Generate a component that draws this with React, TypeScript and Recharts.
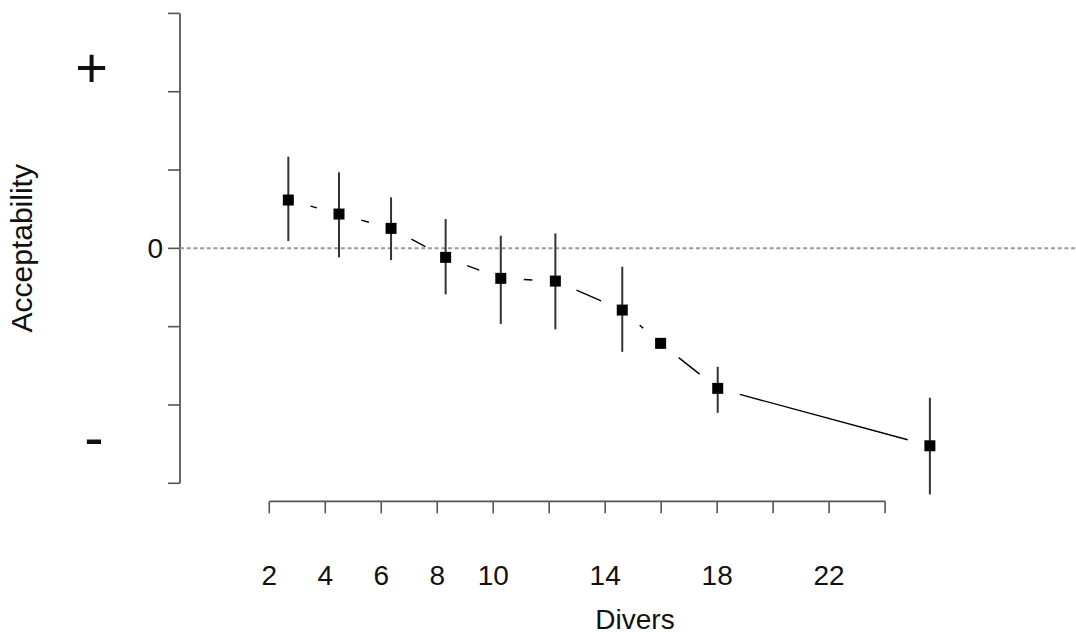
import React from 'react';
import { ComposedChart, Line, XAxis, YAxis, ReferenceLine, ErrorBar } from 'recharts';

// ---- data ----
const divers = [2.68, 4.49, 6.35, 8.3, 10.27, 12.22, 14.61, 15.98, 18.02, 25.6];
const acceptability = [0.617, 0.438, 0.255, -0.115, -0.383, -0.418, -0.788, -1.213, -1.788, -2.521];
const errDown = [0.524, 0.553, 0.405, 0.473, 0.584, 0.617, 0.533, null, 0.312, 0.621];
const errUp = [0.553, 0.533, 0.396, 0.489, 0.544, 0.609, 0.553, null, 0.276, 0.613];

const xTickMarks = [2, 4, 6, 8, 10, 12, 14, 16, 18, 20, 22, 24];
const xTickLabels = [2, 4, 6, 8, 10, 14, 18, 22];
const yTickMarks = [-3, -2, -1, 0, 1, 2, 3];
const yTickLabels = [
  { value: 2.32, text: '+' },
  { value: 0, text: '0' },
  { value: -2.48, text: '-' },
];

const X_MIN = -1.19;
const X_MAX = 30.82;
const Y_MIN = -3.15;
const Y_MAX = 3;

const data = divers.map((d, i) => ({
  divers: d,
  acceptability: acceptability[i],
  err: errDown[i] == null ? null : [errDown[i], errUp[i]],
}));

// ---- layout ----
const W = 1076;
const H = 632;
const Y_AXIS_W = 180;
const TOP = 13.4;
const PLOT_H = 469.9 * (Y_MAX - Y_MIN) / 6;
const X_AXIS_H = H - TOP - PLOT_H;
const PLOT_W = W - Y_AXIS_W;
const PX_PER_X = PLOT_W / (X_MAX - X_MIN);
const FONT = '"Liberation Sans", Arial, Helvetica, sans-serif';
const AXIS_COLOR = '#555';
const GAP = 23;
const X_LINE_OFFSET = 501.3 - (TOP + PLOT_H);

const XTick = (props: any) => {
  const { x, y, payload } = props;
  const v = payload.value;
  const i = xTickMarks.indexOf(v);
  const next = xTickMarks[i + 1];
  const ly = y + X_LINE_OFFSET;
  return (
    <g>
      {next !== undefined && (
        <line x1={x} y1={ly} x2={x + (next - v) * PX_PER_X} y2={ly} stroke={AXIS_COLOR} strokeWidth={1.8} />
      )}
      <line x1={x} y1={ly} x2={x} y2={ly + 12} stroke={AXIS_COLOR} strokeWidth={1.6} />
      {xTickLabels.includes(v) && (
        <text x={x} y={ly + 83.7} textAnchor="middle" fontFamily={FONT} fontSize={28} fill="#111">
          {v}
        </text>
      )}
    </g>
  );
};

const YTick = (props: any) => {
  const { x, y, payload } = props;
  const v = payload.value;
  const isMark = yTickMarks.includes(v);
  const lab = yTickLabels.find((l) => l.value === v);
  let textEl = null;
  if (lab) {
    if (lab.text === '0') {
      textEl = (
        <text x={x - 17} y={y + 10} textAnchor="end" fontFamily={FONT} fontSize={28} fill="#111">
          {lab.text}
        </text>
      );
    } else if (lab.text === '+') {
      textEl = (
        <text x={x - 88.5} y={y + 20} textAnchor="middle" fontFamily={FONT} fontSize={56} fill="#111">
          {lab.text}
        </text>
      );
    } else {
      textEl = (
        <text x={x - 86} y={y + 14.5} textAnchor="middle" fontFamily={FONT} fontSize={58} fill="#111">
          {lab.text}
        </text>
      );
    }
  }
  return (
    <g>
      {isMark && <line x1={x - 12} y1={y} x2={x} y2={y} stroke={AXIS_COLOR} strokeWidth={1.6} />}
      {textEl}
    </g>
  );
};

const renderDot = (props: any) => {
  const { cx, cy, index, points } = props;
  let seg = null;
  const next = points && points[index + 1];
  if (next && next.x != null && next.y != null) {
    const dx = next.x - cx;
    const dy = next.y - cy;
    const len = Math.hypot(dx, dy);
    if (len > 2 * GAP) {
      const ux = dx / len;
      const uy = dy / len;
      seg = (
        <line
          x1={cx + ux * GAP}
          y1={cy + uy * GAP}
          x2={next.x - ux * GAP}
          y2={next.y - uy * GAP}
          stroke="#000"
          strokeWidth={1.4}
        />
      );
    }
  }
  return (
    <g key={`dot-${index}`}>
      {seg}
      <rect x={cx - 5.5} y={cy - 5.5} width={11} height={11} fill="#000" />
    </g>
  );
};

const allYTicks = [...yTickMarks, ...yTickLabels.map((l) => l.value).filter((v) => !yTickMarks.includes(v))];

export default function App() {
  return (
    <div style={{ position: 'absolute', left: 0, top: 0, width: W, height: H, background: '#fff' }}>
      <ComposedChart width={W} height={H} data={data} margin={{ top: TOP, right: 0, bottom: 0, left: 0 }}>
        <XAxis
          dataKey="divers"
          type="number"
          domain={[X_MIN, X_MAX]}
          ticks={xTickMarks}
          interval={0}
          axisLine={false}
          tickLine={false}
          tickSize={0}
          tickMargin={0}
          height={X_AXIS_H}
          tick={<XTick />}
          label={{
            value: 'Divers',
            content: () => (
              <text x={635} y={629} textAnchor="middle" fontFamily={FONT} fontSize={28} fill="#111">
                Divers
              </text>
            ),
          }}
        />
        <YAxis
          type="number"
          domain={[Y_MIN, Y_MAX]}
          ticks={allYTicks}
          interval={0}
          width={Y_AXIS_W}
          axisLine={false}
          tickLine={false}
          tickSize={0}
          tickMargin={0}
          tick={<YTick />}
          label={{
            value: 'Acceptability',
            content: () => (
              <text
                x={32}
                y={248.3}
                transform="rotate(-90, 32, 248.3)"
                textAnchor="middle"
                fontFamily={FONT}
                fontSize={30}
                fill="#111"
              >
                Acceptability
              </text>
            ),
          }}
        />
        <ReferenceLine
          segment={[
            { x: X_MIN, y: yTickMarks[0] },
            { x: X_MIN, y: yTickMarks[yTickMarks.length - 1] },
          ]}
          stroke={AXIS_COLOR}
          strokeWidth={1.8}
          ifOverflow="visible"
        />
        <ReferenceLine y={0} stroke="#999" strokeWidth={2} strokeDasharray="4 2.7" />
        <Line
          dataKey="acceptability"
          stroke="none"
          isAnimationActive={false}
          dot={renderDot}
          activeDot={false}
        >
          <ErrorBar dataKey="err" width={0} stroke="#333" strokeWidth={2} isAnimationActive={false} />
        </Line>
      </ComposedChart>
    </div>
  );
}
